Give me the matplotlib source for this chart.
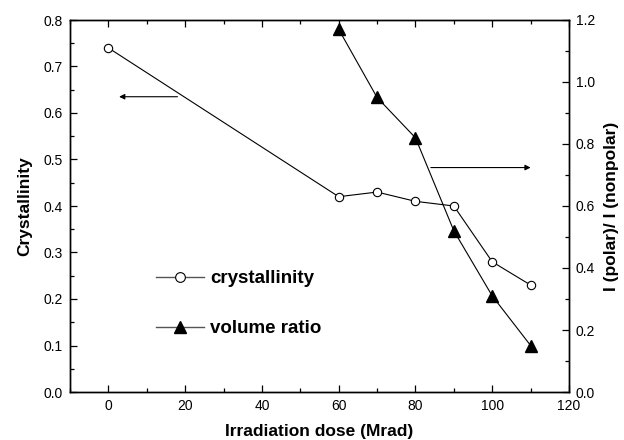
import matplotlib
matplotlib.use("Agg")
import matplotlib.pyplot as plt
from matplotlib.ticker import MultipleLocator
from matplotlib.lines import Line2D

plt.rcParams['font.family'] = ['Liberation Sans', 'DejaVu Sans']

dose_cryst = [0, 60, 70, 80, 90, 100, 110]
crystallinity = [0.74, 0.42, 0.43, 0.41, 0.40, 0.28, 0.23]
dose_ratio = [60, 70, 80, 90, 100, 110]
volume_ratio = [1.17, 0.95, 0.82, 0.52, 0.31, 0.15]

fig = plt.figure(figsize=(6.24, 4.4), dpi=100)
ax = fig.add_axes([70/624, 1-392/440, (569-70)/624, (392-20)/440])
ax2 = ax.twinx()

ax.plot(dose_cryst, crystallinity, color='black', lw=0.8, marker='o', ms=6,
        mfc='white', mec='black', mew=0.8)
ax2.plot(dose_ratio, volume_ratio, color='black', lw=0.8, marker='^', ms=8,
         mfc='black', mec='black')

ax.set_xlim(-10, 120)
ax.set_ylim(0, 0.8)
ax2.set_ylim(0, 1.2)

ax.xaxis.set_major_locator(MultipleLocator(20))
ax.xaxis.set_minor_locator(MultipleLocator(10))
ax.yaxis.set_major_locator(MultipleLocator(0.1))
ax.yaxis.set_minor_locator(MultipleLocator(0.05))
ax2.yaxis.set_major_locator(MultipleLocator(0.2))
ax2.yaxis.set_minor_locator(MultipleLocator(0.1))
ax.yaxis.set_major_formatter(plt.FormatStrFormatter('%.1f'))
ax2.yaxis.set_major_formatter(plt.FormatStrFormatter('%.1f'))

ax.tick_params(axis='x', which='both', direction='in', top=True, labelsize=10)
ax.tick_params(axis='y', which='both', direction='in', labelsize=10)
ax2.tick_params(axis='y', which='both', direction='in', labelsize=10)
for a in (ax, ax2):
    a.tick_params(which='major', length=5, width=0.9, pad=5)
    a.tick_params(which='minor', length=3, width=0.9)
    for s in a.spines.values():
        s.set_linewidth(1.0)

ax.set_xlabel('Irradiation dose (Mrad)', fontsize=12.5, fontweight='bold', labelpad=8)
ax.set_ylabel('Crystallinity', fontsize=12.5, fontweight='bold', labelpad=8)
ax2.set_ylabel('I (polar)/ I (nonpolar)', fontsize=12.5, fontweight='bold', labelpad=6)

ax.annotate('', xy=(2.8, 0.635), xytext=(18, 0.635),
            arrowprops=dict(arrowstyle='-|>', color='black', lw=0.8,
                            mutation_scale=8, shrinkA=0, shrinkB=0))
ax2.annotate('', xy=(110, 0.724), xytext=(84, 0.724),
             arrowprops=dict(arrowstyle='-|>', color='black', lw=0.8,
                             mutation_scale=8, shrinkA=0, shrinkB=0))

h1 = Line2D([], [], color='#555555', lw=1.0, marker='o', ms=7, mfc='white', mec='black', mew=0.8)
h2 = Line2D([], [], color='#555555', lw=1.0, marker='^', ms=9, mfc='black', mec='black')
leg = ax.legend([h1, h2], ['crystallinity', 'volume ratio'], loc='upper left',
                bbox_to_anchor=(0.138, 0.373), frameon=False,
                prop=dict(size=13.5, weight='bold'), handlelength=2.6,
                handletextpad=0.3, labelspacing=1.75)

fig.savefig('out.png', dpi=100)
